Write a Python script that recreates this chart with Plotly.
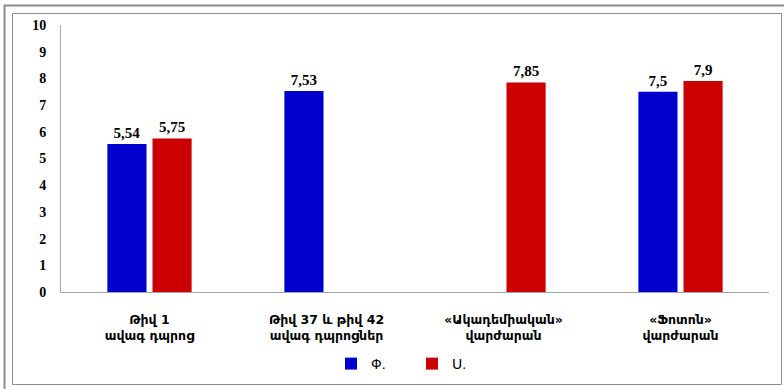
import plotly.graph_objects as go

categories = ["Թիվ 1<br>ավագ դպրոց", "Թիվ 37 և թիվ 42<br>ավագ դպրոցներ",
              "«Ակադեմիական»<br>վարժարան", "«Ֆոտոն»<br>վարժարան"]
series_f = [5.54, 7.53, None, 7.5]
series_s = [5.75, None, 7.85, 7.9]
series_names = ["Ф.", "Ս."]
y_ticks = list(range(0, 11))

W, H = 784, 389
L, R, T, B = 61, 15, 25, 97


def fmt(vals):
    return [("" if v is None else str(v).replace(".", ",")) for v in vals]


def px(x):
    return (x - L) / (W - L - R)


def py(y):
    return (H - B - y) / (H - T - B)


fig = go.Figure()
for name, vals, color in [(series_names[0], series_f, "#0000CC"),
                          (series_names[1], series_s, "#CC0000")]:
    fig.add_trace(go.Bar(
        x=categories, y=vals, name=name, marker_color=color,
        marker_line_width=0,
        text=fmt(vals), textposition="outside", cliponaxis=False,
        textfont=dict(family="Liberation Serif", size=15, color="#000000",
                      weight="bold"),
    ))

frame_inner = dict(type="rect", xref="paper", yref="paper",
                   x0=px(12.5), x1=px(781.5), y0=py(384.5), y1=py(13.5),
                   line=dict(color="#8C8C8C", width=1), layer="below")
frame_outer = dict(type="path", xref="paper", yref="paper",
                   path=f"M {px(4.5)} {py(389)} L {px(4.5)} {py(5.5)} L {px(784)} {py(5.5)}",
                   line=dict(color="#8C8C8C", width=2), layer="below")

fig.update_layout(
    width=W, height=H,
    margin=dict(l=L, r=R, t=T, b=B, autoexpand=False),
    paper_bgcolor="white", plot_bgcolor="white",
    barmode="group", bargap=0.49, bargroupgap=0.133,
    showlegend=True,
    legend=dict(orientation="h", x=px(331), xanchor="left", y=py(364), yanchor="middle",
                font=dict(family="Liberation Sans, DejaVu Sans", size=14, color="#000000"),
                itemwidth=30, entrywidth=36, traceorder="normal",
                bgcolor="rgba(0,0,0,0)"),
    shapes=[frame_inner, frame_outer],
    xaxis=dict(showline=True, linecolor="#A6A6A6", linewidth=1, ticks="",
               showgrid=False, ticklabelstandoff=16,
               tickfont=dict(family="DejaVu Sans", size=12.5,
                             color="#000000", weight="bold")),
    yaxis=dict(range=[0, 10], tickvals=y_ticks, showline=True, linecolor="#A6A6A6",
               linewidth=1, ticks="", showgrid=False, zeroline=False,
               ticklabelstandoff=11,
               tickfont=dict(family="Liberation Serif", size=14, color="#000000",
                             weight="bold")),
)

fig.write_html("out.html", config={"displayModeBar": False},
               post_script="document.body.style.margin='0';document.body.style.padding='0';")
